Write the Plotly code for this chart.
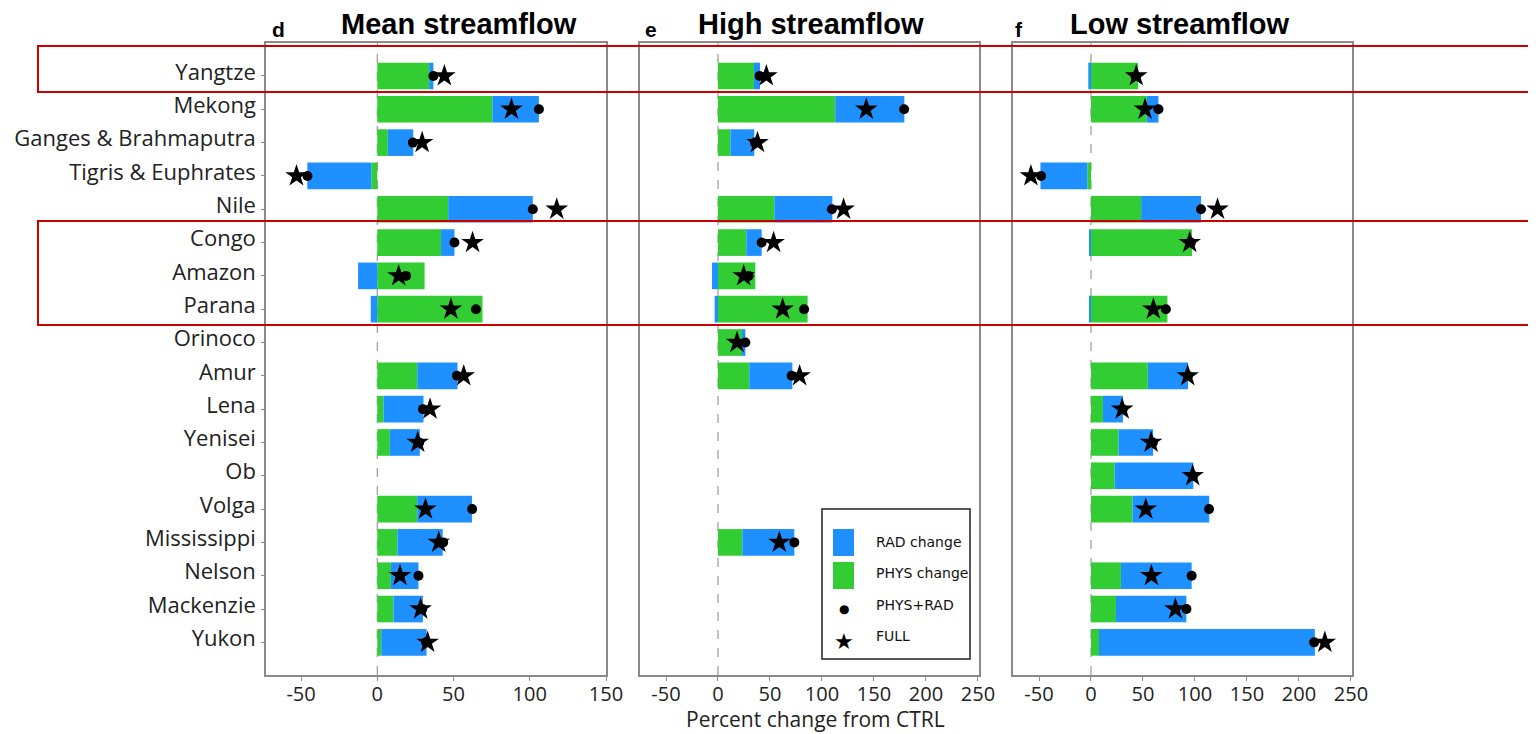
import plotly.graph_objects as go

W, H = 1536, 734
OFF = 8  # the page body margin shifts the figure by this many pixels

rivers = ["Yangtze", "Mekong", "Ganges & Brahmaputra", "Tigris & Euphrates", "Nile",
          "Congo", "Amazon", "Parana", "Orinoco", "Amur", "Lena", "Yenisei", "Ob",
          "Volga", "Mississippi", "Nelson", "Mackenzie", "Yukon"]

panel_titles = ["Mean streamflow", "High streamflow", "Low streamflow"]
panel_letters = ["d", "e", "f"]
x_ticks = [-50, 0, 50, 100, 150, 200, 250]
x_label = "Percent change from CTRL"

# Mean streamflow
mean_phys = [34, 75.5, 6.9, -3.9, 46.5, 41.8, 31, 69, None, 26.2, 4.1, 8.2, None, 26.2, 13.2, 8.9, 10.6, 2.6]
mean_rad = [2.8, 30.5, 16.7, -42, 55.5, 8.8, -12.6, -4.3, None, 26.4, 26.2, 19.7, None, 35.9, 29.7, 18.1, 19.3, 29.7]
mean_sum = [36.8, 106, 23.3, -45.8, 102, 50.6, 18.8, 64.7, None, 52.2, 30, 27.5, None, 62.2, 43.2, 27, 29.5, 32]
mean_full = [44, 88, 29.4, -53, 117.7, 62.5, 14, 48.3, None, 56.7, 34.6, 26.5, None, 31.6, 40.3, 14.9, 28.4, 33]

# High streamflow
high_phys = [34.6, 112.8, 11.9, None, 54.2, 27.2, 35.9, 86.2, 23.1, 30.1, None, None, None, None, 23.4, None, None, None]
high_rad = [5.8, 66.4, 23, None, 55.8, 14.8, -5.8, -3.2, 3.2, 41.4, None, None, None, None, 50, None, None, None]
high_sum = [40, 179, 35.5, None, 109.5, 42, 29.5, 82.8, 26.3, 70.8, None, None, None, None, 73.4, None, None, None]
high_full = [46.5, 142.6, 38, None, 120.8, 53.5, 24.7, 62.2, 18.3, 78.5, None, None, None, None, 59, None, None, None]

# Low streamflow
low_phys = [45.4, 53.7, None, -3.5, 48.2, 97.1, None, 73.5, None, 54.6, 11.5, 26.5, 22.7, 39.9, None, 28.8, 24, 7.7]
low_rad = [-2.6, 11.2, None, -45.1, 57.6, -1, None, -1, None, 38.7, 19.2, 33.2, 75.7, 73.8, None, 68, 67.7, 207.6]
low_sum = [42.8, 64.9, None, -48, 105.8, 96.1, None, 72, None, 93.3, 30.5, 59.5, 98.2, 113.5, None, 96.8, 91.8, 214.6]
low_full = [43.5, 52, None, -57.8, 121.7, 94.9, None, 60, None, 93, 30, 57.8, 97.8, 52.7, None, 58.1, 81.2, 224.9]

legend_labels = ["RAD change", "PHYS change", "PHYS+RAD", "FULL"]

BLUE = "#1E90FF"
GREEN = "#32CD32"
FRAME = "#8a8a8a"
TICKFONT = "Open Sans"

panels = [
    (mean_phys, mean_rad, mean_sum, mean_full, [-73, 150]),
    (high_phys, high_rad, high_sum, high_full, [-75, 251]),
    (low_phys, low_rad, low_sum, low_full, [-75, 251]),
]
px_dom = [(266, 606), (640, 979), (1013, 1352)]
y_top, y_bot = 43, 675


def px(xp):
    return (xp - OFF) / W


def py(yp):
    return 1 - (yp - OFF) / H


fig = go.Figure()
for i, (phys, rad, ssum, full, rng) in enumerate(panels):
    xa = "x" if i == 0 else f"x{i+1}"
    ya = "y" if i == 0 else f"y{i+1}"
    fig.add_trace(go.Bar(y=rivers, x=phys, orientation="h", marker_color=GREEN,
                         marker_line_width=0, width=0.8, name="PHYS change",
                         showlegend=False, xaxis=xa, yaxis=ya))
    fig.add_trace(go.Bar(y=rivers, x=rad, orientation="h", marker_color=BLUE,
                         marker_line_width=0, width=0.8, name="RAD change",
                         showlegend=False, xaxis=xa, yaxis=ya))
    fig.add_trace(go.Scatter(y=rivers, x=ssum, mode="markers", name="PHYS+RAD",
                             marker=dict(symbol="circle", size=10, color="black"),
                             showlegend=False, xaxis=xa, yaxis=ya))
    fig.add_trace(go.Scatter(y=rivers, x=full, mode="markers", name="FULL",
                             marker=dict(symbol="star", size=17, color="black"),
                             showlegend=False, xaxis=xa, yaxis=ya))

    axis_common = dict(showline=True, mirror=True, linecolor=FRAME, linewidth=1.5,
                       showgrid=False, zeroline=False)
    x0, x1 = px_dom[i]
    tv = [t for t in x_ticks if rng[0] <= t <= rng[1]]
    fig.layout[("xaxis" if i == 0 else f"xaxis{i+1}")] = dict(
        domain=[px(x0), px(x1)], anchor=ya, range=rng,
        tickvals=tv, ticktext=[str(t) for t in tv],
        ticks="outside", ticklen=4, tickcolor=FRAME, ticklabelstandoff=-4,
        tickfont=dict(family=TICKFONT, size=20, color="#222"),
        automargin=False, **axis_common)
    fig.layout[("yaxis" if i == 0 else f"yaxis{i+1}")] = dict(
        domain=[py(y_bot), py(y_top)], anchor=xa, type="category",
        categoryorder="array", categoryarray=rivers,
        range=[17.98, -0.99],
        ticks="outside" if i == 0 else "", ticklen=3, tickcolor=FRAME,
        showticklabels=(i == 0), ticklabelstandoff=1, ticklabelshift=4,
        tickfont=dict(family=TICKFONT, size=22, color="#222"),
        automargin=False, **axis_common)
    fig.add_shape(type="line", xref=xa, yref=f"{ya} domain", x0=0, x1=0, y0=0, y1=1,
                  line=dict(color="#9a9a9a", width=1.2, dash="dash"), layer="below")

# titles and panel letters
title_x = [459, 811, 1180]
letter_x = [270, 643, 1013]
for i in range(3):
    fig.add_annotation(x=px(title_x[i]), y=py(24), xref="paper", yref="paper",
                       text=f"<b>{panel_titles[i]}</b>", showarrow=False,
                       xanchor="center", yanchor="middle",
                       font=dict(family="Liberation Sans", size=29, color="black"))
    fig.add_annotation(x=px(letter_x[i]), y=py(29), xref="paper", yref="paper",
                       text=f"<b>{panel_letters[i]}</b>", showarrow=False,
                       xanchor="left", yanchor="middle",
                       font=dict(family="Liberation Sans", size=21, color="black"))

fig.add_annotation(x=px(815), y=py(719), xref="paper", yref="paper", text=x_label,
                   showarrow=False, xanchor="center", yanchor="middle",
                   font=dict(family=TICKFONT, size=21, color="#222"))

# legend (manual)
fig.add_shape(type="rect", xref="paper", yref="paper", x0=px(822), x1=px(970),
              y0=py(659), y1=py(509), line=dict(color="#222", width=1.5),
              fillcolor="white", layer="above")
fig.add_shape(type="rect", xref="paper", yref="paper", x0=px(833), x1=px(854),
              y0=py(556), y1=py(529), line=dict(width=0), fillcolor=BLUE, layer="above")
fig.add_shape(type="rect", xref="paper", yref="paper", x0=px(833), x1=px(854),
              y0=py(589), y1=py(562), line=dict(width=0), fillcolor=GREEN, layer="above")
leg_y = [542, 573, 605, 636]
for lab, yy in zip(legend_labels, leg_y):
    fig.add_annotation(x=px(874), y=py(yy), xref="paper", yref="paper", text=lab,
                       showarrow=False, xanchor="left", yanchor="middle",
                       font=dict(family="DejaVu Sans", size=14, color="#111"))
fig.add_annotation(x=px(843.5), y=py(609), xref="paper", yref="paper", text="●",
                   showarrow=False, xanchor="center", yanchor="middle",
                   font=dict(family="DejaVu Sans", size=12, color="black"))
fig.add_annotation(x=px(843.5), y=py(641), xref="paper", yref="paper", text="★",
                   showarrow=False, xanchor="center", yanchor="middle",
                   font=dict(family="DejaVu Sans", size=22, color="black"))

# red highlight boxes
for (ya0, ya1) in [(46, 92), (221, 325)]:
    fig.add_shape(type="rect", xref="paper", yref="paper", x0=px(38), x1=px(1560),
                  y0=py(ya1), y1=py(ya0), line=dict(color="#CC0000", width=2),
                  fillcolor="rgba(0,0,0,0)", layer="above")

fig.update_layout(width=W, height=H, barmode="relative", bargap=0.2,
                  margin=dict(l=0, r=0, t=0, b=0), plot_bgcolor="white",
                  paper_bgcolor="white", showlegend=False)

fig.write_html("out.html")
